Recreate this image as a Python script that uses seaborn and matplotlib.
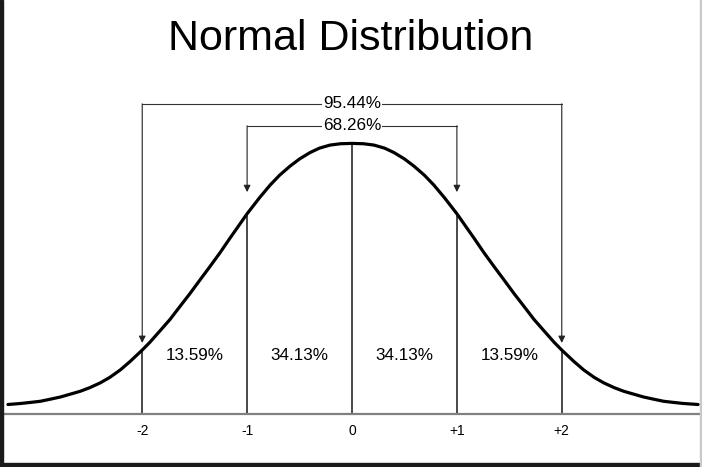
import numpy as np
import pandas as pd
import matplotlib
matplotlib.use("Agg")
import matplotlib.pyplot as plt
import seaborn as sns

# curve: x in standard deviations, height in pdf units
curve_x = [-3.28, -3.16, -3.07, -2.97, -2.88, -2.78, -2.69, -2.59, -2.50, -2.40,
           -2.31, -2.21, -2.12, -2.00, -1.93, -1.83, -1.735, -1.64, -1.545, -1.45,
           -1.354, -1.26, -1.163, -1.00, -0.88, -0.78, -0.69, -0.59, -0.50, -0.40,
           -0.31, -0.21, -0.11, 0.00,
           0.11, 0.21, 0.31, 0.40, 0.50, 0.59, 0.69, 0.78, 0.88, 1.00,
           1.163, 1.26, 1.354, 1.45, 1.545, 1.64, 1.735, 1.83, 1.93, 2.00,
           2.12, 2.21, 2.31, 2.40, 2.50, 2.59, 2.69, 2.78, 2.88, 2.97,
           3.07, 3.16, 3.30]
curve_y = [0.0140, 0.0155, 0.0170, 0.0188, 0.0217, 0.0251, 0.0291, 0.0336, 0.0389, 0.0460,
           0.0540, 0.0650, 0.0770, 0.0945, 0.1055, 0.1230, 0.1398, 0.1590, 0.1780, 0.1980,
           0.2180, 0.2380, 0.2600, 0.2960, 0.3200, 0.3385, 0.3530, 0.3665, 0.3770, 0.3865,
           0.3930, 0.3975, 0.3995, 0.4000,
           0.3995, 0.3975, 0.3930, 0.3865, 0.3770, 0.3665, 0.3530, 0.3385, 0.3200, 0.2960,
           0.2600, 0.2380, 0.2180, 0.1980, 0.1780, 0.1590, 0.1398, 0.1230, 0.1055, 0.0945,
           0.0770, 0.0650, 0.0540, 0.0460, 0.0389, 0.0336, 0.0291, 0.0251, 0.0217, 0.0188,
           0.0170, 0.0155, 0.0140]

sd_ticks = [-2, -1, 0, 1, 2]
sd_labels = ["-2", "-1", "0", "+1", "+2"]
band_labels = ["13.59%", "34.13%", "34.13%", "13.59%"]
bracket_labels = ["95.44%", "68.26%"]
bracket_sd = [2, 1]

df = pd.DataFrame({"sd": curve_x, "density": curve_y})

sns.set_style("white")
plt.rcParams["font.family"] = ["Liberation Sans", "DejaVu Sans"]
plt.rcParams["text.color"] = "black"
plt.rcParams["xtick.color"] = "black"

fig = plt.figure(figsize=(7.02, 4.67), dpi=100)
ax = fig.add_axes([0, 0, 1, 1])

sns.lineplot(data=df, x="sd", y="density", color="black", lw=2.3, ax=ax,
             solid_capstyle="round", solid_joinstyle="round")

# vertical lines from baseline to the curve
for s in sd_ticks:
    top = np.interp(s, curve_x, curve_y)
    ax.plot([s, s], [0, top], color="#2a2a2a", lw=1.2, zorder=1)

# brackets with arrows
bracket_y = [0.4585, 0.426]
tip_y = [0.105, 0.328]
for lab, s, by, ty in zip(bracket_labels, bracket_sd, bracket_y, tip_y):
    ax.plot([-s, s], [by, by], color="#333333", lw=0.8)
    for side in (-s, s):
        ax.annotate("", xy=(side, ty), xytext=(side, by),
                    arrowprops=dict(arrowstyle="-|>", color="#222222", lw=0.8,
                                    mutation_scale=10, shrinkA=0, shrinkB=0))
    ax.text(0, by, lab, ha="center", va="center", fontsize=12.3,
            bbox=dict(facecolor="white", edgecolor="none", pad=0.5))

# band labels
for i, lab in enumerate(band_labels):
    mid = (sd_ticks[i] + sd_ticks[i + 1]) / 2
    ax.text(mid, 0.086, lab, ha="center", va="center", fontsize=12.3)

ax.set_xlim(-3.356, 3.337)
ax.set_ylim(-0.0784, 0.612)

ax.set_xticks(sd_ticks)
ax.set_xticklabels(sd_labels, fontsize=11.5)
ax.tick_params(axis="x", length=0, pad=7)
ax.set_yticks([])
ax.set_xlabel("")
ax.set_ylabel("")
for sp in ["top", "left", "right"]:
    ax.spines[sp].set_visible(False)
ax.spines["bottom"].set_position(("data", 0))
ax.spines["bottom"].set_color("#808080")
ax.spines["bottom"].set_linewidth(1.6)

fig.text(0.5, 1 - 39 / 467, "Normal Distribution", ha="center", va="center",
         fontsize=31)

# screenshot frame edges
fig.patches.append(plt.Rectangle((0, 0), 3 / 702, 1, transform=fig.transFigure,
                                 color="#1a1a1a", zorder=10))
fig.patches.append(plt.Rectangle((0, 0), 1, 4 / 467, transform=fig.transFigure,
                                 color="#1a1a1a", zorder=10))
fig.patches.append(plt.Rectangle((700 / 702, 0), 2 / 702, 1, transform=fig.transFigure,
                                 color="#c8c8c8", zorder=10))

fig.savefig("out.png", dpi=100)
